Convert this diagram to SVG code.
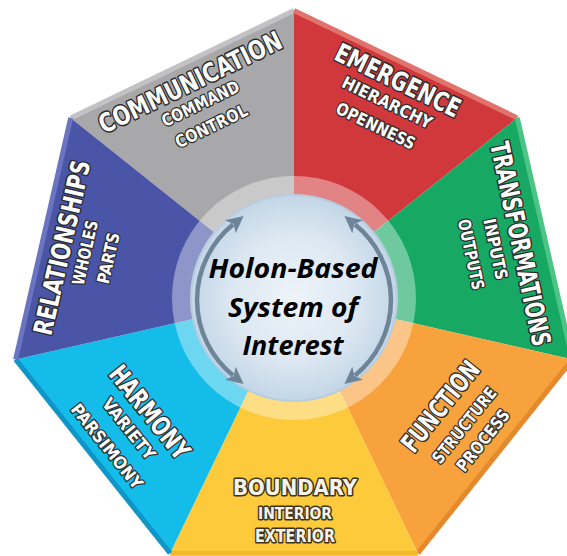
<svg xmlns="http://www.w3.org/2000/svg" width="567" height="556" viewBox="0 0 567 556">
<defs>
<radialGradient id="core" cx="0.5" cy="0.5" r="0.5">
<stop offset="0" stop-color="#eef4f9"/>
<stop offset="0.6" stop-color="#dde8f2"/>
<stop offset="1" stop-color="#c3d6e7"/>
</radialGradient>
<marker id="ah" viewBox="0 0 10 10" refX="2" refY="5" markerWidth="17" markerHeight="17" markerUnits="userSpaceOnUse" orient="auto-start-reverse">
<path d="M0,0 L10,5 L0,10 L2.5,5 z" fill="#6e8498"/>
</marker>
</defs>
<style>
.t{font-family:"DejaVu Sans Condensed","DejaVu Sans",sans-serif;font-weight:bold;fill:#ffffff;stroke:#2b2b2b;stroke-width:3;paint-order:stroke;stroke-linejoin:round;text-anchor:middle}
.tt{font-size:26px}
.ts{font-size:17px;stroke-width:2.5}
.b{fill:#f7f3e8;stroke:#3d3322}
.edge{stroke-width:5;fill:none;stroke-linecap:butt}
.core{font-family:"Open Sans","Liberation Sans",Arial,sans-serif;font-weight:bold;font-style:italic;font-size:26px;fill:#000;text-anchor:middle}
.arr{fill:none;stroke:#6e8498;stroke-width:4.5}
</style>
<g id="segments">
<g id="communication">
<polygon points="294,296 70.7,117.9 294,10.4" fill="#a8a8aa"/>
<line class="edge" x1="70.7" y1="117.9" x2="294" y2="10.4" stroke="#c2c2c4"/>
<g transform="translate(190,82) rotate(-25.8)">
<text class="t tt" y="9.5" textLength="200" lengthAdjust="spacingAndGlyphs">COMMUNICATION</text>
<text class="t ts" y="30" textLength="84" lengthAdjust="spacingAndGlyphs">COMMAND</text>
<text class="t ts" y="55" textLength="78" lengthAdjust="spacingAndGlyphs">CONTROL</text>
</g>
</g>
<g id="emergence">
<polygon points="294,296 294,10.4 517.3,117.9" fill="#d1383c"/>
<line class="edge" x1="294" y1="10.4" x2="517.3" y2="117.9" stroke="#e0746c"/>
<g transform="translate(398,80) rotate(25.8)">
<text class="t tt" y="9.5" textLength="136" lengthAdjust="spacingAndGlyphs">EMERGENCE</text>
<text class="t ts" y="31" textLength="98" lengthAdjust="spacingAndGlyphs">HIERARCHY</text>
<text class="t ts" y="57" textLength="86" lengthAdjust="spacingAndGlyphs">OPENNESS</text>
</g>
</g>
<g id="transformations">
<polygon points="294,296 517.3,117.9 572.4,359.5" fill="#17a964"/>
<line class="edge" x1="517.3" y1="117.9" x2="572.4" y2="359.5" stroke="#4cc486"/>
<g transform="translate(520,244) rotate(78)">
<text class="t tt" y="8.5" font-size="24" textLength="208" lengthAdjust="spacingAndGlyphs">TRANSFORMATIONS</text>
<text class="t ts" y="31" textLength="62" lengthAdjust="spacingAndGlyphs">INPUTS</text>
<text class="t ts" y="56" textLength="72" lengthAdjust="spacingAndGlyphs">OUTPUTS</text>
</g>
</g>
<g id="function">
<polygon points="294,296 572.4,359.5 417.9,553.3" fill="#f7a23d"/>
<line class="edge" x1="572.4" y1="359.5" x2="417.9" y2="553.3" stroke="#e48a2c"/>
<g transform="translate(440,406) rotate(-51.4)">
<text class="t tt" y="9.5" textLength="108" lengthAdjust="spacingAndGlyphs">FUNCTION</text>
<text class="t ts" y="37" textLength="92" lengthAdjust="spacingAndGlyphs">STRUCTURE</text>
<text class="t ts" y="61" textLength="74" lengthAdjust="spacingAndGlyphs">PROCESS</text>
</g>
</g>
<g id="boundary">
<polygon points="294,296 417.9,553.3 170.1,553.3" fill="#fdca3b"/>
<line class="edge" x1="417.9" y1="553.3" x2="170.1" y2="553.3" stroke="#f2b92c"/>
<text class="t b" x="295" y="495" font-size="22" textLength="124" lengthAdjust="spacingAndGlyphs">BOUNDARY</text>
<text class="t b" x="295" y="519" font-size="16" stroke-width="2.5" textLength="74" lengthAdjust="spacingAndGlyphs">INTERIOR</text>
<text class="t b" x="295" y="542" font-size="18" stroke-width="2.5" textLength="80" lengthAdjust="spacingAndGlyphs">EXTERIOR</text>
</g>
<g id="harmony">
<polygon points="294,296 170.1,553.3 15.6,359.5" fill="#14bde9"/>
<line class="edge" x1="170.1" y1="553.3" x2="15.6" y2="359.5" stroke="#0f96c6"/>
<g transform="translate(150,412) rotate(51.4)">
<text class="t tt" y="9.5" textLength="112" lengthAdjust="spacingAndGlyphs">HARMONY</text>
<text class="t ts" y="33" textLength="74" lengthAdjust="spacingAndGlyphs">VARIETY</text>
<text class="t ts" y="61" textLength="104" lengthAdjust="spacingAndGlyphs">PARSIMONY</text>
</g>
</g>
<g id="relationships">
<polygon points="294,296 15.6,359.5 70.7,117.9" fill="#4a55a7"/>
<line class="edge" x1="15.6" y1="359.5" x2="70.7" y2="117.9" stroke="#6b74c0"/>
<g transform="translate(61.5,247.5) rotate(-77.2)">
<text class="t tt" y="9.5" textLength="178" lengthAdjust="spacingAndGlyphs">RELATIONSHIPS</text>
<text class="t ts" y="30" textLength="66" lengthAdjust="spacingAndGlyphs">WHOLES</text>
<text class="t ts" y="54" textLength="52" lengthAdjust="spacingAndGlyphs">PARTS</text>
</g>
</g>
</g>
<g id="center">
<circle cx="294" cy="298" r="122" fill="#ffffff" fill-opacity="0.38"/>
<circle cx="294" cy="298" r="103" fill="url(#core)" stroke="#b9cde0" stroke-width="2"/>
<text class="core" x="293" y="278" textLength="169" lengthAdjust="spacingAndGlyphs">Holon-Based</text>
<text class="core" x="293" y="317" textLength="130" lengthAdjust="spacingAndGlyphs">System of</text>
<text class="core" x="293" y="355" textLength="101" lengthAdjust="spacingAndGlyphs">Interest</text>
</g>
<g id="connectors">
<path class="arr" d="M233,224.6 A97,97 0 0 0 233,375.4" marker-start="url(#ah)" marker-end="url(#ah)"/>
<path class="arr" d="M355,224.6 A97,97 0 0 1 355,375.4" marker-start="url(#ah)" marker-end="url(#ah)"/>
</g>
</svg>
